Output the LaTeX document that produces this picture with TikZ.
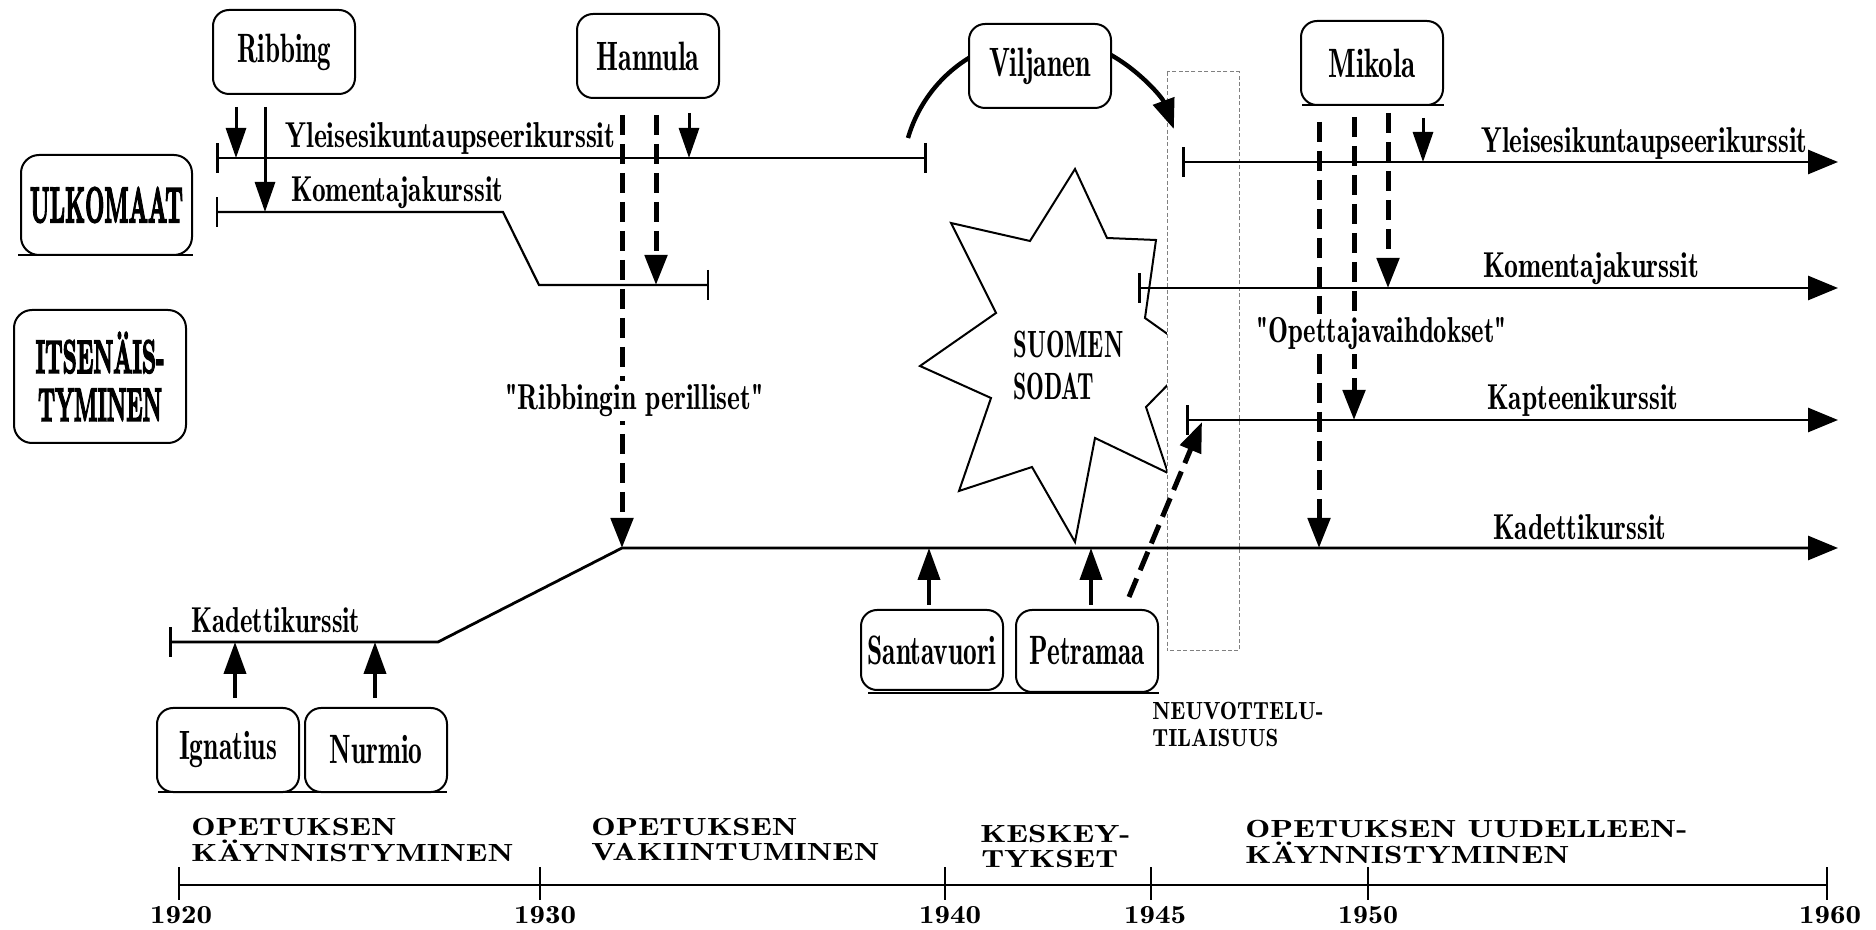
\documentclass[tikz,border=0pt]{standalone}
\usetikzlibrary{arrows.meta}
\font\dmN="[lmromandemi10-regular.otf]" at 20.5pt
\font\dmC="[lmromandemi10-regular.otf]" at 18pt
\font\dmS="[lmromandemi10-regular.otf]" at 19pt
\font\dmE="[lmromandemi10-regular.otf]" at 12.4pt
\font\dmY="[lmromandemi10-regular.otf]" at 13pt
\font\bxU="[lmroman10-bold.otf]:embolden=4" at 25pt
\font\bxI="[lmroman10-bold.otf]:embolden=4" at 23.4pt
\newcommand{\fitw}[2]{\resizebox{#1}{\height}{#2}}
\tikzset{
  namebox/.style={draw, fill=white, line width=1pt, rounded corners=8pt, minimum width=71pt, minimum height=42pt, inner sep=0pt, font=\dmN},
  bigbox/.style={draw, line width=1pt, rounded corners=9pt, inner sep=0pt, align=center},
  course/.style={anchor=base west, inner sep=0pt, font=\dmC},
  quoted/.style={anchor=base west, inner sep=2pt, fill=white, font=\dmC},
  era/.style={anchor=base west, inner sep=0pt, font=\dmE},
  yr/.style={anchor=base, inner sep=0pt, font=\dmY},
  track/.style={line width=1.3pt, arrows={Bar[width=15pt]-Bar[width=15pt]}},
  trackarr/.style={line width=1.4pt, arrows={Bar[width=15pt]-Triangle[length=15pt,width=12pt]}},
  sarr/.style={line width=1.5pt, arrows={-Triangle[length=15pt,width=10pt]}},
  uarr/.style={line width=2pt, arrows={-Triangle[length=16pt,width=11pt]}},
  darr/.style={line width=2.5pt, dash pattern=on 10pt off 4.5pt, arrows={-Triangle[length=15pt,width=11pt]}},
  vilarc/.style={line width=2.2pt},
  ulin/.style={line width=1pt},
}
\begin{document}
\begin{tikzpicture}[x=0.5pt,y=0.5pt]
\fill[white] (0,0) rectangle (1876,-930);
\useasboundingbox (0,0) rectangle (1876,-930);

% war star
\draw[line width=1pt, fill=white] (1075,-169) -- (1107,-238) -- (1156,-240) -- (1145,-318) -- (1197,-355) -- (1146,-407) -- (1168,-473) -- (1095,-438) -- (1075,-542) -- (1032,-467) -- (959,-491) -- (991,-398) -- (920,-366) -- (996,-313) -- (951,-223) -- (1030,-241) -- cycle;
\node[anchor=base west, inner sep=0pt, font=\dmS] (suomen) at (1013,-358) {\fitw{55pt}{SUOMEN}};
\node[anchor=base west, inner sep=0pt, font=\dmS] (sodat) at (1013,-400) {\fitw{40.5pt}{SODAT}};

% negotiation window
\draw[line width=0.5pt, gray, dash pattern=on 2pt off 1.2pt, fill=white] (1167,-72) rectangle (1239,-651);

% course lines
\coordinate (yl0) at (216,-158); \coordinate (yl1) at (927,-158);
\coordinate (kl0) at (216,-212); \coordinate (kl1) at (503,-212);
\coordinate (kl2) at (539,-285); \coordinate (kl3) at (709,-285);
\coordinate (kd0) at (169,-642); \coordinate (kd1) at (438,-642);
\coordinate (kd2) at (622,-548); \coordinate (kd3) at (1838,-548);
\coordinate (yr0) at (1182,-162); \coordinate (yr1) at (1838,-162);
\coordinate (kr0) at (1138,-288); \coordinate (kr1) at (1838,-288);
\coordinate (kp0) at (1186,-420); \coordinate (kp1) at (1838,-420);

\draw[track] (yl0) -- (yl1);
\draw[track, line width=1.1pt] (kl0) -- (kl1) -- (kl2) -- (kl3);
\draw[trackarr] (kd0) -- (kd1) -- (kd2) -- (kd3);
\draw[trackarr] (yr0) -- (yr1);
\draw[trackarr] (kr0) -- (kr1);
\draw[trackarr] (kp0) -- (kp1);

% course labels
\node[course] (lyl) at (285,-148) {\fitw{165pt}{Yleisesikuntaupseerikurssit}};
\node[course] (lkl) at (291,-202) {\fitw{106pt}{Komentajakurssit}};
\node[course] (lkd) at (191,-633) {\fitw{84.5pt}{Kadettikurssit}};
\node[course] (lyr) at (1481,-153) {\fitw{163pt}{Yleisesikuntaupseerikurssit}};
\node[course] (lkr) at (1483,-278) {\fitw{108pt}{Komentajakurssit}};
\node[course] (lkp) at (1487,-410) {\fitw{95.5pt}{Kapteenikurssit}};
\node[course] (lkdr) at (1493,-540) {\fitw{86.5pt}{Kadettikurssit}};

% arrow end points
\coordinate (r1a) at (236,-107); \coordinate (r1b) at (236,-158);
\coordinate (r2a) at (265,-107); \coordinate (r2b) at (265,-212);
\coordinate (h1a) at (622,-115);
\coordinate (h2a) at (656,-115); \coordinate (h2b) at (656,-285);
\coordinate (h3a) at (689,-113); \coordinate (h3b) at (689,-158);
\coordinate (m1a) at (1319,-122); \coordinate (m1b) at (1319,-548);
\coordinate (m2a) at (1354,-117); \coordinate (m2b) at (1354,-420);
\coordinate (m3a) at (1388,-113); \coordinate (m3b) at (1388,-288);
\coordinate (m4a) at (1423,-118); \coordinate (m4b) at (1423,-162);
\coordinate (sa) at (929,-605); \coordinate (sb) at (929,-548);
\coordinate (pa) at (1091,-605); \coordinate (pb) at (1091,-548);
\coordinate (ia) at (235,-698); \coordinate (ib) at (235,-642);
\coordinate (na) at (375,-698); \coordinate (nb) at (375,-642);
\coordinate (pda) at (1129,-597); \coordinate (pdb) at (1202,-422);

\draw[sarr] (r1a) -- (r1b);
\draw[sarr] (r2a) -- (r2b);
\draw[darr] (h1a) -- (kd2);
\draw[darr] (h2a) -- (h2b);
\draw[sarr] (h3a) -- (h3b);
\draw[darr] (m1a) -- (m1b);
\draw[darr] (m2a) -- (m2b);
\draw[darr] (m3a) -- (m3b);
\draw[sarr] (m4a) -- (m4b);
\draw[uarr] (sa) -- (sb);
\draw[uarr] (pa) -- (pb);
\draw[uarr] (ia) -- (ib);
\draw[uarr] (na) -- (nb);
\draw[darr] (pda) -- (pdb);

% quoted labels (mask the dashed lines)
\node[quoted] (rper) at (501,-410) {\fitw{129pt}{"Ribbingin perilliset"}};
\node[quoted] (opv) at (1252,-343) {\fitw{125pt}{"Opettajavaihdokset"}};

% Viljanen arcs
\coordinate (vla) at (908,-138);
\coordinate (vra) at (1111,-55);
\draw[vilarc] (vla) arc[start angle=163.8, end angle=121.5, radius=70pt];
\draw[vilarc, arrows={-Triangle[length=15pt,width=11pt]}] (vra) arc[start angle=60.6, end angle=20, radius=70pt];

% person boxes
\node[namebox] (ribbing) at (284,-52) {\fitw{47pt}{Ribbing}};
\node[namebox] (hannula) at (648,-56) {\fitw{51.5pt}{Hannula}};
\node[namebox] (viljanen) at (1040,-66) {\fitw{51pt}{Viljanen}};
\node[namebox] (mikola) at (1372,-63) {\fitw{43.5pt}{Mikola}};
\node[namebox] (ignatius) at (228,-750) {\fitw{49pt}{Ignatius}};
\node[namebox] (nurmio) at (376,-750) {\fitw{46.5pt}{Nurmio}};
\node[namebox, minimum height=40pt] (santavuori) at (932,-650) {\fitw{64.5pt}{Santavuori}};
\node[namebox, minimum height=41pt] (petramaa) at (1087,-651) {\fitw{57.5pt}{Petramaa}};

\draw[ulin] (1302,-105) -- (1444,-105);
\draw[ulin] (158,-792) -- (447,-792);
\draw[ulin] (868,-693) -- (1159,-693);

% side boxes
\node[bigbox, minimum width=85.5pt, minimum height=50pt, font=\bxU] (ulko) at (106.5,-205) {\fitw{76.5pt}{ULKOMAAT}};
\draw[ulin] (18,-255) -- (193,-255);
\node[bigbox, minimum width=86pt, minimum height=66.5pt, font={\fontsize{23.4}{24}\selectfont\bxI}] (itsen) at (100,-376.5) {\fitw{64.5pt}{ITSENÄIS-}\\\fitw{62pt}{TYMINEN}};

% negotiation label
\node[era] (neu1) at (1152,-720) {\fitw{85.5pt}{NEUVOTTELU-}};
\node[era] (neu2) at (1152,-747) {\fitw{63pt}{TILAISUUS}};

% period labels
\node[era] (e1a) at (191,-835) {\fitw{102.5pt}{OPETUKSEN}};
\node[era] (e1b) at (191,-861) {\fitw{161pt}{KÄYNNISTYMINEN}};
\node[era] (e2a) at (591,-835) {\fitw{103pt}{OPETUKSEN}};
\node[era] (e2b) at (591,-861) {\fitw{144pt}{VAKIINTUMINEN}};
\node[era] (e3a) at (980,-842) {\fitw{75pt}{KESKEY-}};
\node[era] (e3b) at (981,-868) {\fitw{68.5pt}{TYKSET}};
\node[era] (e4a) at (1245,-837) {\fitw{221pt}{OPETUKSEN UUDELLEEN-}};
\node[era] (e4b) at (1245,-863) {\fitw{162pt}{KÄYNNISTYMINEN}};

% time axis
\coordinate (ax0) at (179,-885); \coordinate (ax1) at (1827,-885);
\draw[line width=1.4pt] (ax0) -- (ax1);
\foreach \t in {179,540,945,1151,1368,1827} \draw[line width=1pt] (\t,-867) -- (\t,-900);
\node[yr] (y1920) at (181,-923) {\fitw{31pt}{1920}};
\node[yr] (y1930) at (545,-923) {\fitw{31pt}{1930}};
\node[yr] (y1940) at (950,-923) {\fitw{31pt}{1940}};
\node[yr] (y1945) at (1155,-923) {\fitw{31pt}{1945}};
\node[yr] (y1950) at (1368,-923) {\fitw{30pt}{1950}};
\node[yr] (y1960) at (1830,-923) {\fitw{31pt}{1960}};
\end{tikzpicture}
\end{document}
